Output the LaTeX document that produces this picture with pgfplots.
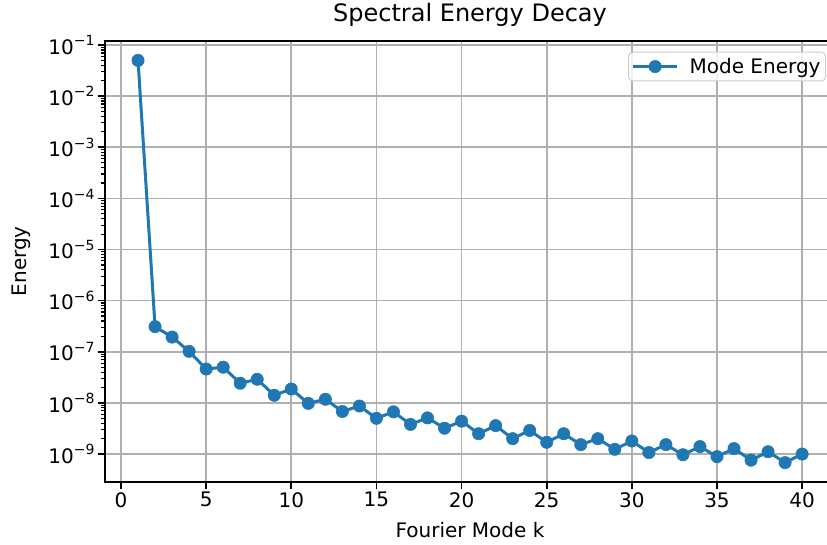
\documentclass[border=0pt]{standalone}
\usepackage{fontspec}
\setmainfont{DejaVu Sans}
\usepackage{pgfplots}
\pgfplotsset{compat=1.18}
\definecolor{mplblue}{HTML}{1F77B4}
\definecolor{gridgray}{HTML}{B0B0B0}
\definecolor{legframe}{HTML}{CCCCCC}
\newcommand{\lbl}{\fontsize{20}{24}\selectfont}
\newcommand{\ex}[1]{10\raisebox{0.42em}{\fontsize{14}{14}\selectfont −#1}}
\begin{document}
\begin{tikzpicture}
\begin{axis}[
  at={(0,0)}, anchor=south west,
  scale only axis, width=730pt, height=441pt,
  ymode=log,
  xmin=-0.94, xmax=41.93,
  ymin=2.88e-10, ymax=1.213e-1,
  xtick={0,5,...,40},
  ytick={1e-9,1e-8,1e-7,1e-6,1e-5,1e-4,1e-3,1e-2,1e-1},
  yticklabels={\ex{9},\ex{8},\ex{7},\ex{6},\ex{5},\ex{4},\ex{3},\ex{2},\ex{1}},
  /pgf/number format/assume math mode=true,
  ticklabel style={font=\lbl},
  tick align=outside,
  xtick pos=bottom, ytick pos=left,
  major tick length=7pt, minor tick length=4pt,
  every tick/.style={black, line width=1.6pt},
  minor tick style={black, line width=1.2pt},
  axis line style={line width=1.6pt},
  grid=major,
  major grid style={gridgray, line width=1.6pt},
  title={Spectral Energy Decay},
  title style={at={(axis description cs:0.5,1.0304)}, anchor=base, font=\fontsize{24}{29}\selectfont},
  xlabel={Fourier Mode k},
  xlabel style={at={(axis description cs:0.5,-0.1254)}, anchor=base, font=\lbl},
  ylabel={Energy},
  ylabel style={at={(axis description cs:-0.1074,0.5)}, anchor=base, font=\lbl},
  legend style={at={(axis description cs:0.9877,0.975)}, anchor=north east,
    draw=legframe, line width=1pt, rounded corners=4pt, fill=white,
    fill opacity=0.8, draw opacity=1, text opacity=1, font=\lbl,
    inner xsep=3pt, inner ysep=4pt,
    /tikz/every odd column/.append style={column sep=9pt}},
  legend cell align=left,
  legend image code/.code={\draw[opacity=1, fill opacity=1, mark repeat=2,mark phase=2,#1] plot coordinates {(0pt,0pt) (22pt,0pt) (44pt,0pt)};},
]
\addplot[color=mplblue, line width=3pt, mark=*, mark size=6.2pt,
  mark options={solid, fill=mplblue, draw=mplblue, line width=0.5pt}]
coordinates {
(1,0.05) (2,3.1e-7) (3,1.94e-7) (4,1.02e-7) (5,4.6e-8) (6,5.0e-8)
(7,2.43e-8) (8,2.9e-8) (9,1.41e-8) (10,1.87e-8) (11,9.8e-9) (12,1.18e-8)
(13,6.8e-9) (14,8.7e-9) (15,5.0e-9) (16,6.7e-9) (17,3.8e-9) (18,5.1e-9)
(19,3.2e-9) (20,4.4e-9) (21,2.5e-9) (22,3.6e-9) (23,2.0e-9) (24,2.9e-9)
(25,1.7e-9) (26,2.5e-9) (27,1.53e-9) (28,2.0e-9) (29,1.24e-9) (30,1.8e-9)
(31,1.07e-9) (32,1.53e-9) (33,9.7e-10) (34,1.4e-9) (35,8.9e-10) (36,1.28e-9)
(37,7.6e-10) (38,1.11e-9) (39,6.8e-10) (40,1.0e-9)
};
\addlegendentry{Mode Energy}
\end{axis}
\pgfresetboundingbox
\useasboundingbox (-105pt,-62.3pt) rectangle (722pt,481.7pt);
\end{tikzpicture}
\end{document}
